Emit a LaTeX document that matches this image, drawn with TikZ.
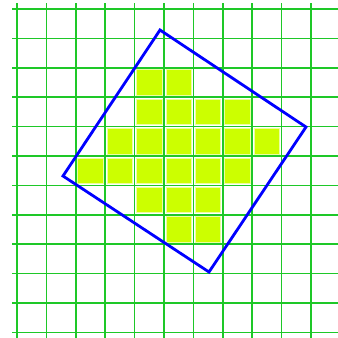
\documentclass[tikz,border=0pt]{standalone}
\begin{document}
\begin{tikzpicture}[x=1pt,y=-1pt,
  gridline/.style={draw=gridgreen,line width=1.6pt},
  cellbox/.style={fill=cellfill,draw=celledge,line width=0.8pt},
  tilted/.style={draw=blue,line width=2.8pt,line join=miter}]
\definecolor{gridgreen}{RGB}{30,200,40}
\definecolor{cellfill}{RGB}{204,255,0}
\definecolor{celledge}{RGB}{235,255,160}
\useasboundingbox (0,0) rectangle (338,338);
\fill[white] (0,0) rectangle (338,338);
% cells
\foreach \r/\cs in {2/{4,5},3/{4,5,6,7},4/{3,4,5,6,7,8},5/{2,3,4,5,6,7},6/{4,5,6},7/{5,6}}{
  \foreach \c in \cs {
    \path[cellbox] ({17+29.4*\c+2},{9+29.4*\r+2}) rectangle ({17+29.4*(\c+1)-2},{9+29.4*(\r+1)-2});
  }
}
% grid
\foreach \k in {0,...,10} \draw[gridline] ({17+29.4*\k},3) -- ({17+29.4*\k},338);
\foreach \k in {0,...,11} \draw[gridline] (12,{9+29.4*\k}) -- (338,{9+29.4*\k});
% tilted square
\coordinate (t) at (160,30);
\coordinate (r) at (306,127);
\coordinate (b) at (209,272);
\coordinate (l) at (63,176);
\draw[tilted] (t) -- (r) -- (b) -- (l) -- cycle;
\end{tikzpicture}
\end{document}
